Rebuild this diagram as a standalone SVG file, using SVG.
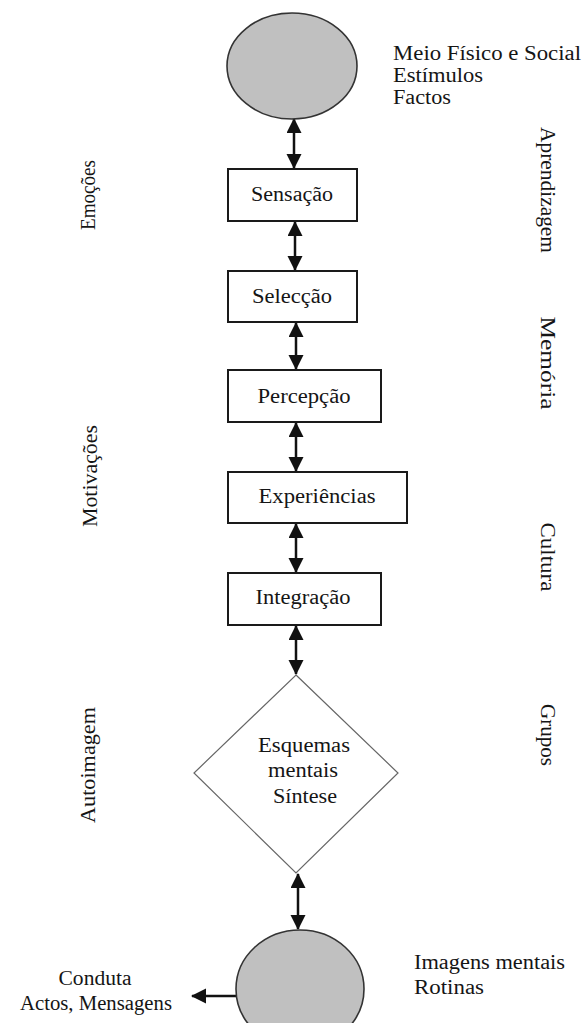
<svg xmlns="http://www.w3.org/2000/svg" width="582" height="1023" viewBox="0 0 582 1023">
  <style>
    text { font-family: "Liberation Serif", "DejaVu Serif", "Times New Roman", serif; font-size: 20px; fill: #151515; }
    .mid { text-anchor: middle; }
    .box { fill: #ffffff; stroke: #1a1a1a; stroke-width: 2; }
    .blob { fill: #c0c0c0; stroke: #333333; stroke-width: 1.6; }
    .diamond { fill: #ffffff; stroke: #666666; stroke-width: 1.2; }
    .conn { stroke: #111111; stroke-width: 2.5; fill: none; }
  </style>
  <defs>
    <marker id="head" markerUnits="userSpaceOnUse" markerWidth="16" markerHeight="16" refX="14" refY="7.5" orient="auto-start-reverse">
      <path d="M0,0 L15,7.5 L0,15 z" fill="#111111"/>
    </marker>
  </defs>
  <rect width="582" height="1023" fill="#ffffff"/>

  <!-- connectors -->
  <g id="connectors">
    <line class="conn" x1="294" y1="119" x2="294" y2="168" marker-start="url(#head)" marker-end="url(#head)"/>
    <line class="conn" x1="295" y1="222" x2="295" y2="270" marker-start="url(#head)" marker-end="url(#head)"/>
    <line class="conn" x1="296" y1="323" x2="296" y2="369" marker-start="url(#head)" marker-end="url(#head)"/>
    <line class="conn" x1="296" y1="423" x2="296" y2="471" marker-start="url(#head)" marker-end="url(#head)"/>
    <line class="conn" x1="296" y1="524" x2="296" y2="572" marker-start="url(#head)" marker-end="url(#head)"/>
    <line class="conn" x1="296" y1="626" x2="296" y2="674" marker-start="url(#head)" marker-end="url(#head)"/>
    <line class="conn" x1="298" y1="874" x2="298" y2="929" marker-start="url(#head)" marker-end="url(#head)"/>
    <line class="conn" x1="237" y1="996" x2="192" y2="996" marker-end="url(#head)"/>
  </g>

  <!-- process chain -->
  <g id="meio">
    <ellipse class="blob" cx="292" cy="66" rx="65" ry="53"/>
    <text x="393" y="60" textLength="188" lengthAdjust="spacingAndGlyphs">Meio Físico e Social</text>
    <text x="393" y="82" textLength="90" lengthAdjust="spacingAndGlyphs">Estímulos</text>
    <text x="393" y="104" textLength="58" lengthAdjust="spacingAndGlyphs">Factos</text>
  </g>
  <g id="sensacao">
    <rect class="box" x="228" y="169" width="129" height="52"/>
    <text class="mid" x="292" y="201" textLength="82" lengthAdjust="spacingAndGlyphs">Sensação</text>
  </g>
  <g id="seleccao">
    <rect class="box" x="228" y="271" width="129" height="51"/>
    <text class="mid" x="292" y="303" textLength="80" lengthAdjust="spacingAndGlyphs">Selecção</text>
  </g>
  <g id="percepcao">
    <rect class="box" x="228" y="370" width="153" height="52"/>
    <text class="mid" x="304" y="403" textLength="93" lengthAdjust="spacingAndGlyphs">Percepção</text>
  </g>
  <g id="experiencias">
    <rect class="box" x="228" y="472" width="179" height="51"/>
    <text class="mid" x="317" y="503" textLength="117" lengthAdjust="spacingAndGlyphs">Experiências</text>
  </g>
  <g id="integracao">
    <rect class="box" x="228" y="573" width="153" height="52"/>
    <text class="mid" x="303" y="604" textLength="95" lengthAdjust="spacingAndGlyphs">Integração</text>
  </g>
  <g id="esquemas">
    <polygon class="diamond" points="296,675 398,773 296,873 194,773"/>
    <text class="mid" x="304" y="752" textLength="92" lengthAdjust="spacingAndGlyphs">Esquemas</text>
    <text class="mid" x="303" y="777" textLength="70" lengthAdjust="spacingAndGlyphs">mentais</text>
    <text class="mid" x="305" y="803" textLength="64" lengthAdjust="spacingAndGlyphs">Síntese</text>
  </g>
  <g id="imagens">
    <ellipse class="blob" cx="300" cy="989" rx="64" ry="59"/>
    <text x="414" y="969" textLength="151" lengthAdjust="spacingAndGlyphs">Imagens mentais</text>
    <text x="414" y="994" textLength="70" lengthAdjust="spacingAndGlyphs">Rotinas</text>
  </g>
  <g id="conduta">
    <text class="mid" x="95" y="985" textLength="73" lengthAdjust="spacingAndGlyphs">Conduta</text>
    <text class="mid" x="96" y="1010" textLength="152" lengthAdjust="spacingAndGlyphs">Actos, Mensagens</text>
  </g>

  <!-- side influences, left (reading upward) -->
  <g id="emocoes">
    <text class="mid" transform="translate(95,195) rotate(-90)" textLength="70" lengthAdjust="spacingAndGlyphs">Emoções</text>
  </g>
  <g id="motivacoes">
    <text class="mid" transform="translate(97,476) rotate(-90)" textLength="102" lengthAdjust="spacingAndGlyphs">Motivações</text>
  </g>
  <g id="autoimagem">
    <text class="mid" transform="translate(95,765) rotate(-90)" textLength="116" lengthAdjust="spacingAndGlyphs">Autoimagem</text>
  </g>

  <!-- side influences, right (reading downward) -->
  <g id="aprendizagem">
    <text class="mid" transform="translate(541,190) rotate(90)" textLength="126" lengthAdjust="spacingAndGlyphs">Aprendizagem</text>
  </g>
  <g id="memoria">
    <text class="mid" transform="translate(541,363) rotate(90)" textLength="93" lengthAdjust="spacingAndGlyphs">Memória</text>
  </g>
  <g id="cultura">
    <text class="mid" transform="translate(541,557) rotate(90)" textLength="69" lengthAdjust="spacingAndGlyphs">Cultura</text>
  </g>
  <g id="grupos">
    <text class="mid" transform="translate(541,735) rotate(90)" textLength="62" lengthAdjust="spacingAndGlyphs">Grupos</text>
  </g>
</svg>
